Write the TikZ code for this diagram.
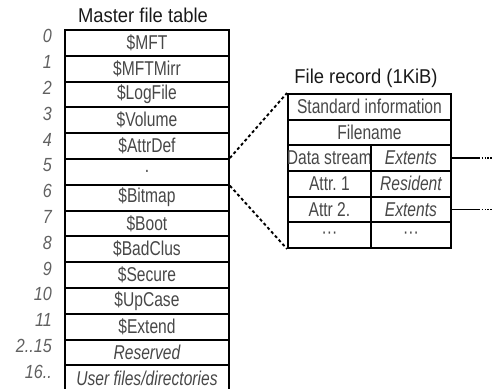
\documentclass[tikz,border=0pt]{standalone}
\usepackage{fontspec}
\setmainfont{Liberation Sans}
\newfontfamily\cellfont[FakeStretch=0.78]{Liberation Sans}
\newfontfamily\numfont[FakeStretch=0.85]{Liberation Sans}
\newfontfamily\headfont[FakeStretch=0.92]{Liberation Sans}
\begin{document}
\begin{tikzpicture}[x=1pt,y=-1pt,
  cell/.style={draw, line width=1.9pt, inner sep=0pt, anchor=north west,
    minimum height=25.8pt, text=black!72,
    font=\cellfont\fontsize{20}{22}\selectfont},
  mftcell/.style={cell, minimum width=164pt},
  reccell/.style={cell, minimum height=25.67pt},
  idx/.style={anchor=east, inner sep=0pt, text=black!62,
    font=\numfont\itshape\fontsize{19}{21}\selectfont},
  heading/.style={inner sep=0pt, text=black!90, font=\headfont\fontsize{20}{22}\selectfont},
  zoomline/.style={line width=1.9pt, dash pattern=on 3pt off 2.6pt},
  extline/.style={line width=1.9pt},
  extdots/.style={line width=1.9pt, dash pattern=on 1.4pt off 1.4pt}]
\useasboundingbox (0,0) rectangle (492,388);

% Master file table
\node[heading] (mfttitle) at (143,15) {Master file table};
\foreach \txt [count=\i from 0] in {\$MFT,\$MFTMirr,\$LogFile,\$Volume,\$AttrDef,.,%
    \$Bitmap,\$Boot,\$BadClus,\$Secure,\$UpCase,\$Extend,%
    {\itshape Reserved},{\itshape User files/directories}}
  \node[mftcell] (m\i) at (64,{29+25.8*\i}) {\txt};
\foreach \num [count=\i from 0] in {0,1,2,3,4,5,6,7,8,9,10,11,{2..15},{16..}}
  \node[idx] (n\i) at (52,{29+25.8*\i+7.4}) {\num};

% File record
\node[heading] (rectitle) at (366,78) {File record (1KiB)};
\node[reccell, minimum width=163pt] (rec1) at (287,93) {Standard information};
\node[reccell, minimum width=163pt] (rec2) at (287,118.67) {Filename};
\foreach \l/\r [count=\i from 3] in {Data stream/{\itshape Extents},
    Attr.\ 1/{\itshape Resident},Attr 2./{\itshape Extents},···/···}{
  \node[reccell, minimum width=83pt] (rec\i a) at (287,{93+25.67*(\i-1)}) {\makebox[0pt]{\l}};
  \node[reccell, minimum width=80pt] (rec\i b) at (370,{93+25.67*(\i-1)}) {\r};
}

% Zoom from entry 5 onto its file record
\draw[zoomline] (m5.north east) -- (rec1.north west);
\draw[zoomline] (m5.south east) -- (rec6a.south west);

% Extent pointers
\foreach \i in {3,5}{
  \coordinate (ext\i) at ([xshift=27pt]rec\i b.east);
  \coordinate (ext\i end) at ([xshift=42pt]rec\i b.east);
  \draw[extline] (rec\i b.east) -- (ext\i);
  \draw[extdots] (ext\i) -- (ext\i end);
}
\end{tikzpicture}
\end{document}
